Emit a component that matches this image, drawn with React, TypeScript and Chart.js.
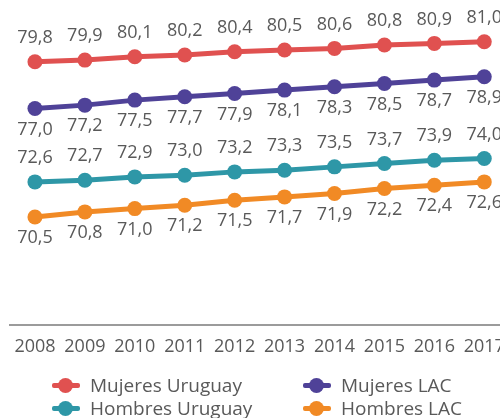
import React, { useEffect, useRef } from "react";
import { Chart, registerables } from "chart.js";

Chart.register(...registerables);

const years = ["2008", "2009", "2010", "2011", "2012", "2013", "2014", "2015", "2016", "2017"];
const mujeresUruguay = [79.8, 79.9, 80.1, 80.2, 80.4, 80.5, 80.6, 80.8, 80.9, 81.0];
const mujeresLAC = [77.0, 77.2, 77.5, 77.7, 77.9, 78.1, 78.3, 78.5, 78.7, 78.9];
const hombresUruguay = [72.6, 72.7, 72.9, 73.0, 73.2, 73.3, 73.5, 73.7, 73.9, 74.0];
const hombresLAC = [70.5, 70.8, 71.0, 71.2, 71.5, 71.7, 71.9, 72.2, 72.4, 72.6];

const seriesNames = ["Mujeres Uruguay", "Mujeres LAC", "Hombres Uruguay", "Hombres LAC"];
const seriesColors = ["#E05150", "#4F4298", "#2E97A7", "#F18A25"];
const labelSide = ["above", "below", "above", "below"];

const FONT = "'Open Sans', sans-serif";
const TEXT = "#595959";

const valueLabels = {
  id: "valueLabels",
  afterDatasetsDraw(chart: any) {
    const ctx = chart.ctx;
    ctx.save();
    ctx.font = `18px ${FONT}`;
    ctx.fillStyle = TEXT;
    ctx.textAlign = "center";
    ctx.textBaseline = "middle";
    chart.data.datasets.forEach((ds: any, i: number) => {
      const meta = chart.getDatasetMeta(i);
      meta.data.forEach((pt: any, j: number) => {
        const v = ds.data[j] as number;
        const txt = v.toFixed(1).replace(".", ",");
        const dy = labelSide[i] === "above" ? -24 : 21;
        ctx.fillText(txt, pt.x, pt.y + dy);
      });
    });
    ctx.restore();
  },
};

function LegendItem({ name, color }: { name: string; color: string }) {
  return (
    <div style={{ display: "flex", alignItems: "center", height: 23 }}>
      <span style={{ position: "relative", width: 28, height: 16, marginRight: 10, flex: "none" }}>
        <span
          style={{
            position: "absolute",
            left: 0,
            top: 6,
            width: 28,
            height: 5,
            borderRadius: 2,
            background: color,
          }}
        />
        <span
          style={{
            position: "absolute",
            left: 6,
            top: 1,
            width: 15,
            height: 15,
            borderRadius: "50%",
            background: color,
          }}
        />
      </span>
      <span style={{ fontFamily: FONT, fontSize: 19, color: TEXT, whiteSpace: "nowrap" }}>{name}</span>
    </div>
  );
}

export default function App() {
  const ref = useRef<HTMLCanvasElement>(null);

  useEffect(() => {
    if (!ref.current) return;
    const all = [mujeresUruguay, mujeresLAC, hombresUruguay, hombresLAC];
    const chart = new Chart(ref.current, {
      type: "line",
      data: {
        labels: years,
        datasets: all.map((d, i) => ({
          label: seriesNames[i],
          data: d,
          borderColor: seriesColors[i],
          backgroundColor: seriesColors[i],
          pointBackgroundColor: seriesColors[i],
          pointBorderWidth: 0,
          pointRadius: 7.5,
          borderWidth: 5,
          tension: 0,
          fill: false,
          clip: false,
        })),
      },
      options: {
        animation: false,
        responsive: false,
        layout: { autoPadding: false, padding: { left: 10, right: 3, top: 0, bottom: 49 } },
        plugins: {
          legend: { display: false },
          tooltip: { enabled: false },
        },
        scales: {
          x: {
            offset: true,
            grid: { display: false, drawTicks: false },
            border: { display: true, color: "#9B9B9B", width: 2 },
            ticks: {
              color: TEXT,
              font: { family: FONT, size: 18 },
              padding: 11,
              maxRotation: 0,
              autoSkip: false,
            },
          },
          y: {
            display: false,
            min: 64,
            max: 83.5,
          },
        },
      },
      plugins: [valueLabels],
    });
    return () => chart.destroy();
  }, []);

  return (
    <div style={{ position: "absolute", left: 0, top: 0, width: 500, height: 418, overflow: "hidden", background: "#fff" }}>
      <canvas ref={ref} width={516} height={418} style={{ width: 516, height: 418, display: "block" }} />
      <div
        style={{
          position: "absolute",
          left: 52,
          top: 373,
          display: "grid",
          gridTemplateColumns: "251px 200px",
        }}
      >
        <LegendItem name={seriesNames[0]} color={seriesColors[0]} />
        <LegendItem name={seriesNames[1]} color={seriesColors[1]} />
        <LegendItem name={seriesNames[2]} color={seriesColors[2]} />
        <LegendItem name={seriesNames[3]} color={seriesColors[3]} />
      </div>
    </div>
  );
}
